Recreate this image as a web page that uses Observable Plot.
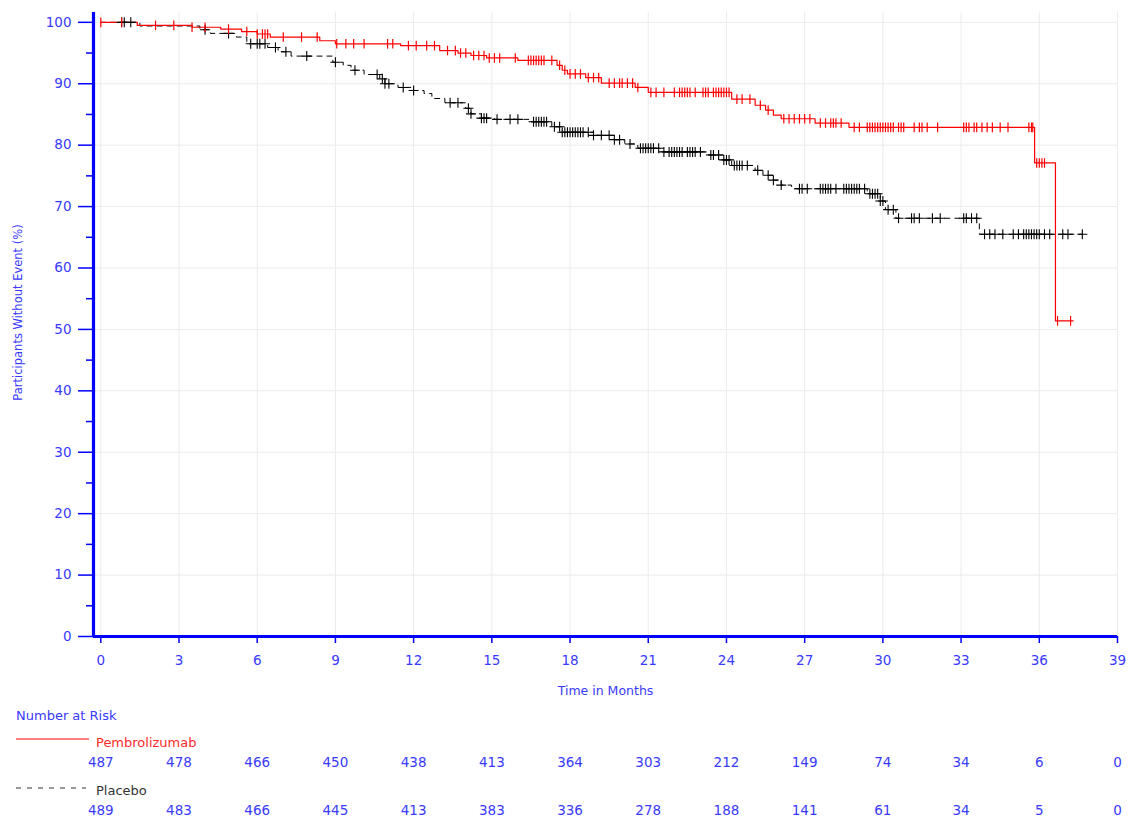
<!DOCTYPE html>
<html>
<head>
<meta charset="utf-8">
<script src="https://cdn.jsdelivr.net/npm/d3@7"></script>
<script src="https://cdn.jsdelivr.net/npm/@observablehq/plot@0.6"></script>
<style>
  body { margin: 0; background: #fff; font-family: "DejaVu Sans", sans-serif; }
  #wrap { position: relative; width: 1128px; height: 820px; overflow: hidden; background: #fff; }
  #wrap svg { display: block; }
  #legend { position: absolute; left: 0; top: 700px; width: 1128px; height: 120px; pointer-events: none; }
</style>
</head>
<body>
<div id="wrap"></div>
<script>
// ---------- data ----------
const monthTicks = [0, 3, 6, 9, 12, 15, 18, 21, 24, 27, 30, 33, 36, 39];
const yMajorTicks = [0, 10, 20, 30, 40, 50, 60, 70, 80, 90, 100];
const yMinorTicks = [5, 15, 25, 35, 45, 55, 65, 75, 85, 95];
const armNames = ["Pembrolizumab", "Placebo"];

// Kaplan-Meier steps (time in months, % without event from that time on)
const pemTime = [0, 1.4, 3.5, 4.6, 5.4, 6.0, 6.5, 8.4, 9.0, 11.5, 13.0, 13.7, 14.2, 14.8, 16.0, 17.5, 17.7, 17.9, 18.6, 19.2, 20.5, 21.0, 24.2, 25.1, 25.5, 25.8, 26.1, 27.4, 28.7, 35.82, 36.62, 37.3];
const pemSurv = [100, 99.5, 99.2, 98.9, 98.5, 98.1, 97.6, 97.0, 96.5, 96.2, 95.4, 95.0, 94.6, 94.2, 93.8, 93.0, 92.2, 91.6, 91.0, 90.1, 89.4, 88.6, 87.5, 86.5, 85.7, 84.9, 84.3, 83.6, 82.9, 77.1, 51.4, 51.4];

const plaTime = [0, 1.5, 3.8, 4.2, 5.2, 5.6, 6.4, 6.8, 7.3, 8.9, 9.3, 9.6, 10.1, 10.7, 10.9, 11.4, 12.0, 12.4, 12.7, 13.2, 14.0, 14.2, 14.6, 15.1, 16.5, 17.3, 17.7, 18.9, 19.7, 20.1, 20.6, 21.5, 23.3, 23.9, 24.2, 25.1, 25.4, 25.8, 26.1, 26.5, 29.4, 29.9, 30.1, 30.5, 33.7, 37.65];
const plaSurv = [100, 99.4, 98.8, 98.2, 97.6, 96.5, 95.9, 95.2, 94.5, 93.5, 93.0, 92.2, 91.5, 90.8, 90.0, 89.4, 88.9, 88.4, 87.6, 86.9, 86.0, 85.1, 84.4, 84.2, 83.8, 83.0, 82.1, 81.6, 80.9, 80.2, 79.5, 78.9, 78.4, 77.6, 76.7, 75.9, 75.1, 74.3, 73.5, 72.9, 72.1, 70.9, 69.5, 68.1, 65.5, 65.5];

// censoring times (months)
const pemCensor = [0.0, 0.8, 2.1, 2.8, 3.5, 4.0, 4.9, 5.6, 6.0, 6.2, 6.3, 6.4, 7.0, 7.7, 8.3, 9.05, 9.4, 9.7, 10.1, 11.0, 11.2, 11.8, 12.1, 12.5, 12.8, 13.3, 13.6, 13.8, 14.0, 14.3, 14.5, 14.7, 14.9, 15.1, 15.3, 15.9, 16.4, 16.5, 16.6, 16.7, 16.8, 16.9, 17.0, 17.3, 17.6, 17.8, 18.0, 18.2, 18.4, 18.7, 18.9, 19.1, 19.5, 19.7, 19.9, 20.0, 20.2, 20.4, 20.6, 21.1, 21.3, 21.6, 22.0, 22.2, 22.3, 22.4, 22.5, 22.6, 22.8, 23.1, 23.2, 23.3, 23.5, 23.6, 23.7, 23.8, 23.9, 24.0, 24.1, 24.4, 24.6, 24.9, 25.3, 25.6, 26.2, 26.4, 26.6, 26.8, 27.0, 27.2, 27.6, 27.8, 28.0, 28.1, 28.2, 28.4, 28.9, 29.1, 29.4, 29.5, 29.6, 29.7, 29.8, 29.9, 30.0, 30.1, 30.2, 30.3, 30.4, 30.6, 30.7, 30.8, 31.2, 31.4, 31.5, 31.7, 32.1, 33.1, 33.2, 33.3, 33.5, 33.6, 33.8, 34.0, 34.2, 34.5, 34.8, 35.6, 35.7, 35.75, 35.9, 36.0, 36.1, 36.2, 36.7, 37.2];
const plaCensor = [0.8, 0.9, 1.15, 4.0, 4.9, 5.75, 6.0, 6.1, 6.3, 6.7, 7.1, 7.9, 9.0, 9.75, 10.6, 10.8, 10.9, 11.05, 11.6, 12.0, 13.4, 13.7, 14.1, 14.2, 14.6, 14.7, 14.8, 15.2, 15.7, 16.0, 16.6, 16.7, 16.8, 16.9, 17.0, 17.1, 17.4, 17.6, 17.7, 17.8, 17.9, 18.0, 18.1, 18.2, 18.3, 18.4, 18.5, 18.7, 18.9, 19.2, 19.5, 19.7, 19.9, 20.3, 20.7, 20.8, 20.9, 21.0, 21.1, 21.2, 21.4, 21.6, 21.8, 21.9, 22.0, 22.1, 22.2, 22.3, 22.5, 22.6, 22.7, 22.8, 23.0, 23.4, 23.5, 23.7, 23.9, 24.0, 24.1, 24.3, 24.4, 24.5, 24.6, 24.8, 25.2, 25.6, 25.8, 26.1, 26.8, 26.9, 27.1, 27.6, 27.7, 27.8, 27.9, 28.0, 28.2, 28.5, 28.6, 28.7, 28.8, 28.9, 29.0, 29.1, 29.3, 29.5, 29.6, 29.7, 29.8, 29.9, 30.0, 30.2, 30.4, 30.6, 31.1, 31.2, 31.4, 31.9, 32.2, 33.1, 33.2, 33.4, 33.6, 33.9, 34.1, 34.3, 34.6, 35.0, 35.2, 35.4, 35.5, 35.6, 35.7, 35.8, 35.9, 36.0, 36.2, 36.4, 36.9, 37.1, 37.65];

// number at risk at each month tick
const pemAtRisk = [487, 478, 466, 450, 438, 413, 364, 303, 212, 149, 74, 34, 6, 0];
const plaAtRisk = [489, 483, 466, 445, 413, 383, 336, 278, 188, 141, 61, 34, 5, 0];

// ---------- build ----------
const BLUE = "#0000ff", TXT = "#3a3aff", GRID = "#ebebeb";
const FONT = "DejaVu Sans";
const xDomain = [-0.28, 39];

const steps = (T, S) => T.map((t, i) => ({t, s: S[i]}));
const survAt = (T, S, t) => { let v = S[0]; for (let i = 0; i < T.length; i++) { if (T[i] <= t) v = S[i]; else break; } return v; };
const pemSteps = steps(pemTime, pemSurv);
const plaSteps = steps(plaTime, plaSurv);
const pemMarks = pemCensor.map(t => ({t, s: survAt(pemTime, pemSurv, t)}));
const plaMarks = plaCensor.map(t => ({t, s: survAt(plaTime, plaSurv, t)}));

// open-stroke censor symbols: size = r²π
const vtick = {draw(ctx, size) { const h = Math.sqrt(size / Math.PI); ctx.moveTo(0, -h); ctx.lineTo(0, h); }};
const cross = {draw(ctx, size) { const h = Math.sqrt(size / Math.PI); ctx.moveTo(0, -h); ctx.lineTo(0, h); ctx.moveTo(-h, 0); ctx.lineTo(h, 0); }};

const main = Plot.plot({
  width: 1128, height: 700,
  marginLeft: 93, marginRight: 11, marginTop: 12, marginBottom: 64,
  style: {fontFamily: FONT, fontSize: "13px", background: "#fff", overflow: "visible"},
  x: {domain: xDomain},
  y: {domain: [0, 101.6]},
  marks: [
    Plot.gridX(monthTicks, {stroke: GRID, strokeOpacity: 1}),
    Plot.gridY(yMajorTicks, {stroke: GRID, strokeOpacity: 1}),
    Plot.line(plaSteps, {x: "t", y: "s", curve: "step-after", stroke: "#000", strokeWidth: 1, strokeDasharray: "5,5"}),
    Plot.line(pemSteps, {x: "t", y: "s", curve: "step-after", stroke: "#ff0000", strokeWidth: 1.2}),
    Plot.dot(plaMarks, {x: "t", y: "s", symbol: cross, r: 5, stroke: "#000", strokeWidth: 1.1, fill: "none"}),
    Plot.dot(pemMarks, {x: "t", y: "s", symbol: vtick, r: 4.8, stroke: "#ff0000", strokeWidth: 1.2, fill: "none"}),
    Plot.axisY(yMajorTicks, {tickSize: 15, tickPadding: 7, stroke: BLUE, strokeWidth: 1.5, fill: TXT, fontSize: 13.5, label: null}),
    Plot.axisY(yMinorTicks, {tickSize: 7, stroke: BLUE, strokeWidth: 1.5, text: null, label: null}),
    Plot.axisX(monthTicks, {tickSize: 7, tickPadding: 12, stroke: BLUE, strokeWidth: 1.5, fill: TXT, fontSize: 13.5, label: null}),
    Plot.ruleX([xDomain[0]], {stroke: BLUE, strokeWidth: 3.2}),
    Plot.ruleY([0], {stroke: BLUE, strokeWidth: 3.2}),
    Plot.text(["Participants Without Event (%)"], {frameAnchor: "left", textAnchor: "middle", lineAnchor: "middle", rotate: -90, dx: -75, dy: -12, fill: TXT, fontSize: 11.5}),
    Plot.text(["Time in Months"], {frameAnchor: "bottom", lineAnchor: "middle", dy: 54, fill: TXT, fontSize: 12.5})
  ]
});

const riskRows = monthTicks.flatMap((m, i) => [
  {m, arm: armNames[0], n: pemAtRisk[i]},
  {m, arm: armNames[1], n: plaAtRisk[i]}
]);

const risk = Plot.plot({
  width: 1128, height: 120,
  marginLeft: 93, marginRight: 11, marginTop: 0, marginBottom: 0,
  style: {fontFamily: FONT, fontSize: "13px", background: "#fff", overflow: "visible"},
  x: {domain: xDomain, axis: null},
  y: {type: "point", domain: armNames, range: [62, 110], padding: 0, axis: null},
  marks: [
    Plot.text(riskRows, {x: "m", y: "arm", text: "n", fill: TXT, fontSize: 13.5})
  ]
});

const wrap = document.getElementById("wrap");
wrap.appendChild(main);
wrap.appendChild(risk);

// Number-at-risk legend (header + line samples)
const leg = d3.select(wrap).append("svg").attr("id", "legend").attr("width", 1128).attr("height", 120)
  .style("font-family", FONT).style("font-size", "13px");
leg.append("text").attr("x", 16).attr("y", 15).attr("dy", "0.35em").attr("fill", TXT).text("Number at Risk");
const armStyles = [
  {name: armNames[0], color: "#ff0000", text: "#ff2a2a", dash: null, ly: 39, ty: 42.5, x2: 89},
  {name: armNames[1], color: "#333", text: "#333", dash: "5,6", ly: 88, ty: 90.5, x2: 86}
];
for (const a of armStyles) {
  leg.append("line").attr("x1", 16).attr("x2", a.x2).attr("y1", a.ly).attr("y2", a.ly)
    .attr("stroke", a.color).attr("stroke-width", 1).attr("stroke-dasharray", a.dash);
  leg.append("text").attr("x", 96).attr("y", a.ty).attr("dy", "0.35em").attr("fill", a.text).text(a.name);
}
</script>
</body>
</html>
